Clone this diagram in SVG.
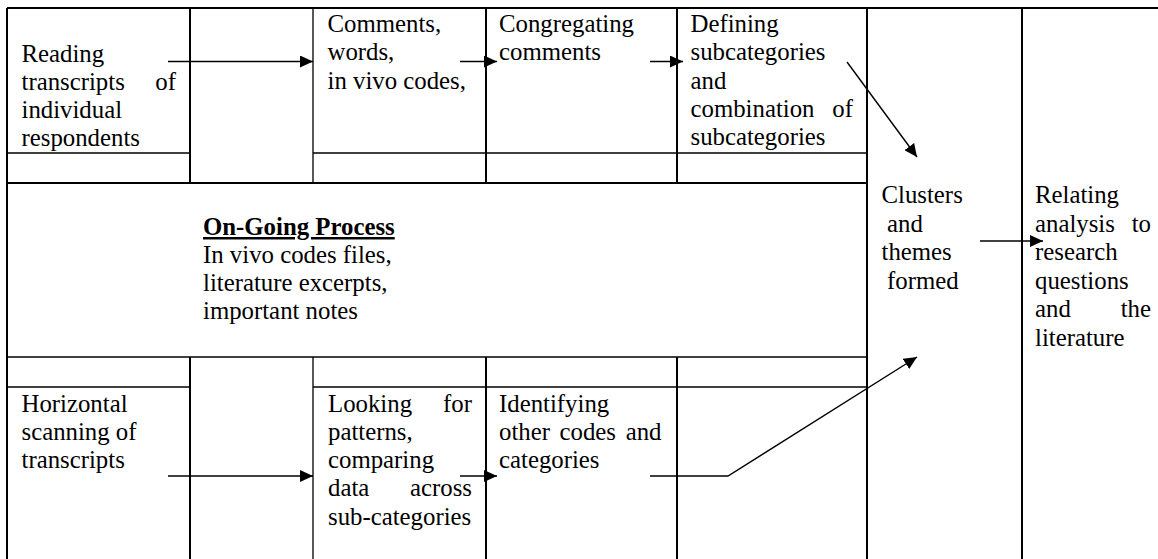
<svg xmlns="http://www.w3.org/2000/svg" width="1158" height="559" viewBox="0 0 1158 559" font-family="'Liberation Serif', Tinos, 'Times New Roman', 'DejaVu Serif', serif">
  <style>
    text { font-family: 'Liberation Serif', Tinos, 'Times New Roman', 'DejaVu Serif', serif; font-size: 24.8px; fill: #000; }
    .b { font-weight: bold; text-decoration: underline; }
    .e { text-anchor: end; }
    .thick { stroke: #000; stroke-width: 2; fill: none; }
    .thin { stroke: #000; stroke-width: 1.3; fill: none; }
    .arr { stroke: #000; stroke-width: 1.4; fill: none; marker-end: url(#head); }
  </style>
  <defs>
    <marker id="head" markerUnits="userSpaceOnUse" markerWidth="13" markerHeight="12" refX="13" refY="6" orient="auto">
      <path d="M0,0 L13,6 L0,12 Z" fill="#000"/>
    </marker>
  </defs>
  <rect width="1158" height="559" fill="#fff"/>

  <!-- table grid -->
  <g id="grid">
    <path class="thick" d="M7,8 H1158 M7,8 V559 M7,183 H867"/>
    <path class="thick" d="M190,8 V183 M190,357 V559"/>
    <path class="thin" d="M313,8 V183 M313,357 V559"/>
    <path class="thick" d="M486,8 V183 M486,357 V559"/>
    <path class="thick" d="M677,8 V183 M677,357 V559"/>
    <path class="thick" d="M867,8 V559 M1022,8 V559"/>
    <path class="thin" d="M7,153 H190 M313,153 H867"/>
    <path class="thin" d="M7,357 H867"/>
    <path class="thin" d="M7,387 H190 M313,387 H867"/>
  </g>

  <g id="n-reading">
    <text x="21.5" y="61.5">Reading</text>
    <text x="21.5" y="89.8">transcripts</text>
    <text x="176" y="89.8" class="e">of</text>
    <text x="21.5" y="118.1">individual</text>
    <text x="21.5" y="146.4">respondents</text>
  </g>

  <g id="n-comments">
    <text x="327.5" y="32">Comments,</text>
    <text x="327.5" y="60.3">words,</text>
    <text x="327.5" y="88.6">in vivo codes,</text>
  </g>

  <g id="n-congregating">
    <text x="499" y="32">Congregating</text>
    <text x="499" y="60.3">comments</text>
  </g>

  <g id="n-defining">
    <text x="690.5" y="32">Defining</text>
    <text x="690.5" y="60.3">subcategories</text>
    <text x="690.5" y="88.6">and</text>
    <text x="690.5" y="116.9">combination</text>
    <text x="853" y="116.9" class="e">of</text>
    <text x="690.5" y="145.2">subcategories</text>
  </g>

  <g id="n-ongoing">
    <text x="203" y="235" class="b">On-Going Process</text>
    <text x="203" y="263">In vivo codes files,</text>
    <text x="203" y="291">literature excerpts,</text>
    <text x="203" y="319">important notes</text>
  </g>

  <g id="n-horizontal">
    <text x="21.5" y="411.5">Horizontal</text>
    <text x="21.5" y="439.8">scanning of</text>
    <text x="21.5" y="468.1">transcripts</text>
  </g>

  <g id="n-looking">
    <text x="328" y="411.5">Looking</text>
    <text x="472" y="411.5" class="e">for</text>
    <text x="328" y="439.8">patterns,</text>
    <text x="328" y="468.1">comparing</text>
    <text x="328" y="496.4">data</text>
    <text x="472" y="496.4" class="e">across</text>
    <text x="328" y="524.7">sub-categories</text>
  </g>

  <g id="n-identifying">
    <text x="499" y="411.5">Identifying</text>
    <text x="499" y="439.8">other</text>
    <text x="559.5" y="439.8">codes</text>
    <text x="661.5" y="439.8" class="e">and</text>
    <text x="499" y="468.1">categories</text>
  </g>

  <g id="n-clusters">
    <text x="881.5" y="203">Clusters</text>
    <text x="887" y="231.5">and</text>
    <text x="881.5" y="260">themes</text>
    <text x="887" y="288.5">formed</text>
  </g>

  <g id="n-relating">
    <text x="1035" y="203">Relating</text>
    <text x="1035" y="231.5">analysis</text>
    <text x="1151" y="231.5" class="e">to</text>
    <text x="1035" y="260">research</text>
    <text x="1035" y="288.5">questions</text>
    <text x="1035" y="317">and</text>
    <text x="1151" y="317" class="e">the</text>
    <text x="1035" y="345.5">literature</text>
  </g>

  <!-- connectors -->
  <g id="connectors">
    <path class="arr" d="M168,61.5 H313"/>
    <path class="arr" d="M460,61.5 H497"/>
    <path class="arr" d="M650,61.5 H683"/>
    <path class="arr" d="M847,62 L917,157"/>
    <path class="arr" d="M980,241 H1043"/>
    <path class="arr" d="M168,476 H313"/>
    <path class="arr" d="M460,476 H497"/>
    <path class="arr" d="M650,476 H728 L917,357"/>
  </g>
</svg>
